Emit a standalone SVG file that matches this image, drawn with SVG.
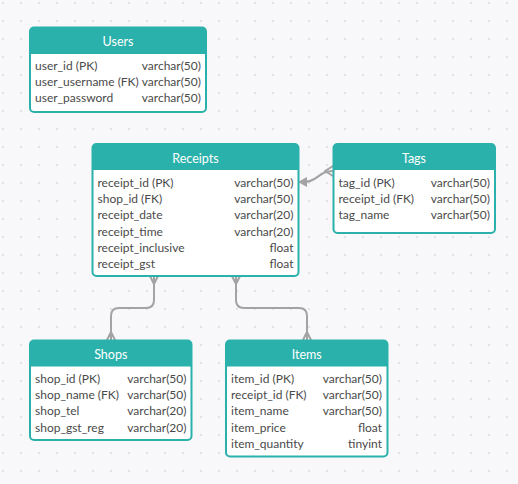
<svg xmlns="http://www.w3.org/2000/svg" width="518" height="484" viewBox="0 0 518 484">
<defs>
<pattern id="dots" x="2" y="2" width="18" height="18" patternUnits="userSpaceOnUse">
<circle cx="1" cy="1" r="0.9" fill="#d6d7dc"/>
</pattern>
<style>
.box{fill:#fff;stroke:#2bb1ab;stroke-width:2}
.hdr{fill:#2bb1ab}
.title{font-family:Lato,"Liberation Sans",sans-serif;font-size:12.5px;fill:#fff;text-anchor:middle}
.f{font-family:Lato,"Liberation Sans",sans-serif;font-size:12px;fill:#4a4a4a}
.t{text-anchor:end}
.c{fill:none;stroke:#a3a3a3;stroke-width:2;stroke-linecap:round;stroke-linejoin:round}
</style>
</defs>
<rect width="518" height="484" fill="#f8f8fa"/>
<rect width="518" height="484" fill="url(#dots)"/>

<g id="connectors">
<path class="c" d="M154,276 V300 Q154,308 146,308 H119 Q111,308 111,316 V340"/>
<path class="c" d="M150,276 L154,284 L158,276 M154,276 V284"/>
<path class="c" d="M107,340 L111,332 L115,340 M111,332 V340"/>
<path class="c" d="M236,276 V300 Q236,308 244,308 H299 Q307,308 307,316 V340"/>
<path class="c" d="M232,276 L236,284 L240,276"/>
<path class="c" d="M303,340 L307,332 L311,340"/>
<path class="c" d="M333,171 C318,171 318,182 304,182"/>
<path class="c" d="M333,166 L325,171 L333,176"/>
<polygon points="298,182 307,177 307,187" fill="#a3a3a3"/>
</g>

<g id="users">
<rect class="box" x="30" y="27.5" width="176" height="84.5" rx="4"/>
<path class="hdr" d="M30,31.5 a4,4 0 0 1 4,-4 h168 a4,4 0 0 1 4,4 V54 H30 Z"/>
<text class="title" x="118" y="46">Users</text>
<text class="f" x="35" y="70">user_id (PK)</text>
<text class="f" x="35" y="86">user_username (FK)</text>
<text class="f" x="35" y="102">user_password</text>
<text class="f t" x="201" y="70">varchar(50)</text>
<text class="f t" x="201" y="86">varchar(50)</text>
<text class="f t" x="201" y="102">varchar(50)</text>
</g>

<g id="receipts">
<rect class="box" x="92.5" y="144" width="206" height="132" rx="4"/>
<path class="hdr" d="M92.5,148 a4,4 0 0 1 4,-4 h198 a4,4 0 0 1 4,4 V170 H92.5 Z"/>
<text class="title" x="195.5" y="162.5">Receipts</text>
<text class="f" x="97.5" y="187">receipt_id (PK)</text>
<text class="f" x="97.5" y="203">shop_id (FK)</text>
<text class="f" x="97.5" y="219">receipt_date</text>
<text class="f" x="97.5" y="235.5">receipt_time</text>
<text class="f" x="97.5" y="251.5">receipt_inclusive</text>
<text class="f" x="97.5" y="268">receipt_gst</text>
<text class="f t" x="293.5" y="187">varchar(50)</text>
<text class="f t" x="293.5" y="203">varchar(50)</text>
<text class="f t" x="293.5" y="219">varchar(20)</text>
<text class="f t" x="293.5" y="235.5">varchar(20)</text>
<text class="f t" x="293.5" y="251.5">float</text>
<text class="f t" x="293.5" y="268">float</text>
</g>

<g id="tags">
<rect class="box" x="333.5" y="144" width="161.5" height="89" rx="4"/>
<path class="hdr" d="M333.5,148 a4,4 0 0 1 4,-4 h153.5 a4,4 0 0 1 4,4 V170 H333.5 Z"/>
<text class="title" x="414" y="162.5">Tags</text>
<text class="f" x="338.5" y="187">tag_id (PK)</text>
<text class="f" x="338.5" y="203">receipt_id (FK)</text>
<text class="f" x="338.5" y="219">tag_name</text>
<text class="f t" x="490" y="187">varchar(50)</text>
<text class="f t" x="490" y="203">varchar(50)</text>
<text class="f t" x="490" y="219">varchar(50)</text>
</g>

<g id="shops">
<rect class="box" x="30" y="340.5" width="161.5" height="99.5" rx="4"/>
<path class="hdr" d="M30,344.5 a4,4 0 0 1 4,-4 h153.5 a4,4 0 0 1 4,4 V366.5 H30 Z"/>
<text class="title" x="110.75" y="359">Shops</text>
<text class="f" x="35" y="383">shop_id (PK)</text>
<text class="f" x="35" y="399">shop_name (FK)</text>
<text class="f" x="35" y="415">shop_tel</text>
<text class="f" x="35" y="431.5">shop_gst_reg</text>
<text class="f t" x="186.5" y="383">varchar(50)</text>
<text class="f t" x="186.5" y="399">varchar(50)</text>
<text class="f t" x="186.5" y="415">varchar(20)</text>
<text class="f t" x="186.5" y="431.5">varchar(20)</text>
</g>

<g id="items">
<rect class="box" x="226" y="340.5" width="161.5" height="116" rx="4"/>
<path class="hdr" d="M226,344.5 a4,4 0 0 1 4,-4 h153.5 a4,4 0 0 1 4,4 V366.5 H226 Z"/>
<text class="title" x="306.75" y="359">Items</text>
<text class="f" x="231" y="383">item_id (PK)</text>
<text class="f" x="231" y="399">receipt_id (FK)</text>
<text class="f" x="231" y="415">item_name</text>
<text class="f" x="231" y="431.5">item_price</text>
<text class="f" x="231" y="447.5">item_quantity</text>
<text class="f t" x="382" y="383">varchar(50)</text>
<text class="f t" x="382" y="399">varchar(50)</text>
<text class="f t" x="382" y="415">varchar(50)</text>
<text class="f t" x="382" y="431.5">float</text>
<text class="f t" x="382" y="447.5">tinyint</text>
</g>
</svg>
